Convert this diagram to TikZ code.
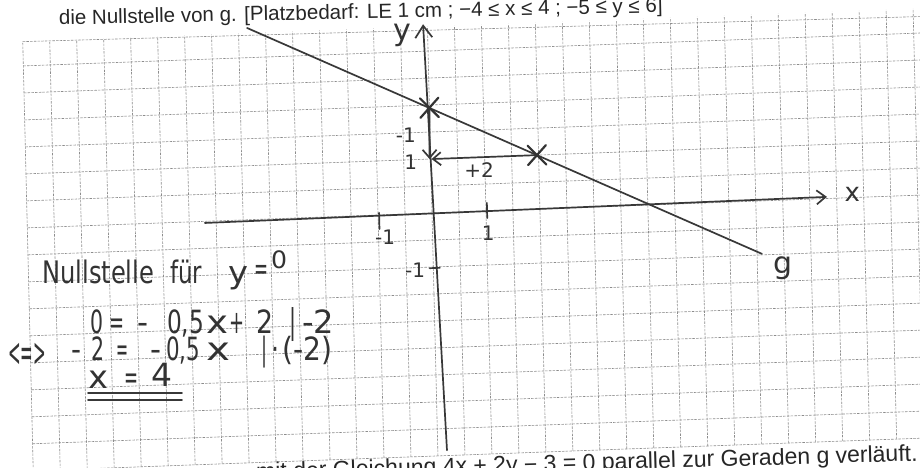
\documentclass[tikz,border=0pt]{standalone}
\usepackage{fontspec}
\setmainfont{Liberation Sans}
\newfontfamily\hand{DejaVu Sans}
\usetikzlibrary{arrows.meta}
\newcommand\hwtok[6]{\node[hw, anchor=base west] (#1) at (#2,#3)
  {\resizebox{#4pt}{\height}{\fontsize{#5}{#5}\selectfont #6}};}
\begin{document}
\begin{tikzpicture}[x=1pt,y=1pt,
  gridline/.style={draw=black!45, line width=0.6pt, dash pattern=on 2.5pt off 1.2pt},
  pencil/.style={draw=black!78, line width=1.7pt, line cap=round},
  crossmark/.style={draw=black!80, line width=2.2pt, line cap=round},
  hw/.style={inner sep=0pt, text=black!80, font=\hand},
  printed/.style={inner sep=0pt, text=black!85},
]
\useasboundingbox (0,0) rectangle (920,467);
\clip (0,0) rectangle (920,467);
\fill[white] (0,0) rectangle (920,467);

% printed task text
\node[printed, anchor=base west, rotate=1.2, font=\fontsize{20.5}{22}\selectfont] (task) at (59,442)
  {die Nullstelle von g. [Platzbedarf: LE 1 cm ; \textminus4 ≤ x ≤ 4 ; \textminus5 ≤ y ≤ 6]};
\node[printed, anchor=base east, rotate=1.6, font=\fontsize{23}{26}\selectfont] (next) at (918,6)
  {mit der Gleichung 4x + 2y \textminus\ 3 = 0 parallel zur Geraden g verläuft.};

\begin{scope}[shift={(432,254)}, x={(53.96pt,1.98pt)}, y={(-1.32pt,53.98pt)}]
  % grid
  \foreach \u in {-7.5,-7,...,9.6} \draw[gridline] (\u,-4.5) -- (\u,3.45);
  \foreach \v in {-4.5,-4,...,3.4} \draw[gridline] (-7.5,\v) -- (9.6,\v);
  \draw[gridline] (-7.5,3.45) -- (9.6,3.3);

  % axes
  \coordinate (xl) at (-4.21,-0.03);
  \coordinate (xr) at (7.32,0.03);
  \coordinate (yb) at (0.17,-4.4);
  \coordinate (yt) at (-0.08,3.5);
  \draw[pencil, -{Straight Barb[length=9pt,width=14pt]}] (xl) -- (xr);
  \draw[pencil, -{Straight Barb[length=12pt,width=17pt]}] (yb) -- (yt);

  % ticks
  \coordinate (tma) at (-0.98,0.04);  \coordinate (tmb) at (-0.98,-0.26);
  \coordinate (tpa) at (1.02,0.15);   \coordinate (tpb) at (1.02,-0.13);
  \coordinate (tya) at (-0.07,-1.02); \coordinate (tyb) at (0.12,-1.02);
  \draw[pencil] (tma) -- (tmb);
  \draw[pencil] (tpa) -- (tpb);
  \draw[pencil] (tya) -- (tyb);

  % line g
  \coordinate (ga) at (-3.34,3.55);
  \coordinate (gb) at (6.09,-0.98);
  \draw[pencil] (ga) -- (gb);

  % points and slope triangle
  \coordinate (P) at (0,1.95);
  \coordinate (Q) at (1.97,1.0);
  \coordinate (R) at (-0.02,1.0);
  \draw[pencil, -{Straight Barb[length=8pt,width=14pt]}] (P) -- (R);
  \draw[pencil, -{Straight Barb[length=8pt,width=13pt]}] (Q) -- ([xshift=2pt]R);
  \foreach \p in {P,Q} {
    \draw[crossmark] ([shift={(-0.17,0.18)}]\p) -- ([shift={(0.17,-0.18)}]\p);
    \draw[crossmark] ([shift={(-0.17,-0.18)}]\p) -- ([shift={(0.17,0.18)}]\p);
  }

  % labels
  \node[hw, font=\hand\fontsize{20}{20}\selectfont] (lxm) at (-0.88,-0.41) {-1};
  \node[hw, font=\hand\fontsize{20}{20}\selectfont] (lxp) at (1.03,-0.41) {1};
  \node[hw, font=\hand\fontsize{20}{20}\selectfont] (lym) at (-0.34,-1.04) {-1};
  \node[hw, font=\hand\fontsize{20}{20}\selectfont] (lyp) at (-0.37,0.96) {1};
  \node[hw, font=\hand\fontsize{20}{20}\selectfont] (ldy) at (-0.45,1.46) {-1};
  \node[hw, font=\hand\fontsize{20}{20}\selectfont] (ldx) at (0.89,0.76) {+2};
  \node[hw, font=\hand\fontsize{30}{30}\selectfont] (ly) at (-0.47,3.3) {y};
  \node[hw, font=\hand\fontsize{26}{26}\selectfont] (lx) at (7.79,0.05) {x};
  \node[hw, font=\hand\fontsize{30}{30}\selectfont] (lg) at (6.47,-1.26) {g};
\end{scope}

% handwritten calculation, line 1
\hwtok{a1}{42}{184}{112}{31}{Nullstelle}
\hwtok{a2}{170}{184}{32}{31}{für}
\hwtok{a3}{228}{184}{20}{31}{y}
\hwtok{a4}{254}{188}{14}{31}{=}
\hwtok{a5}{271}{199}{16}{24}{0}
% line 2
\hwtok{b1}{90}{134}{13}{32}{0}
\hwtok{b2}{109}{134}{15}{32}{=}
\hwtok{b3}{137}{134}{11}{32}{-}
\hwtok{b4}{167}{134}{37}{32}{0,5}
\hwtok{b5}{206}{134}{22}{32}{x}
\hwtok{b6}{229}{134}{15}{32}{+}
\hwtok{b7}{256}{134}{17}{32}{2}
\hwtok{b8}{289}{134}{7}{34}{|}
\hwtok{b9}{302}{134}{32}{32}{-2}
% line 3
\hwtok{c1}{8}{101}{38}{40}{<=>}
\hwtok{c2}{71}{107}{10}{32}{-}
\hwtok{c3}{91}{107}{13}{32}{2}
\hwtok{c4}{116}{107}{12}{32}{=}
\hwtok{c5}{150}{107}{11}{32}{-}
\hwtok{c6}{166}{107}{34}{32}{0,5}
\hwtok{c7}{206}{107}{24}{32}{x}
\hwtok{c8}{261}{107}{6}{32}{|}
\hwtok{c9}{271}{107}{8}{32}{·}
\hwtok{c10}{282}{107}{50}{32}{(-2)}
% line 4
\hwtok{d1}{88}{79}{20}{32}{x}
\hwtok{d2}{124}{79}{14}{32}{=}
\hwtok{d3}{151}{81}{21}{32}{4}
\coordinate (ua) at (88,74); \coordinate (ub) at (182,74);
\coordinate (uc) at (88,67); \coordinate (ud) at (182,67);
\draw[pencil] (ua) -- (ub);
\draw[pencil] (uc) -- (ud);
\end{tikzpicture}
\end{document}
